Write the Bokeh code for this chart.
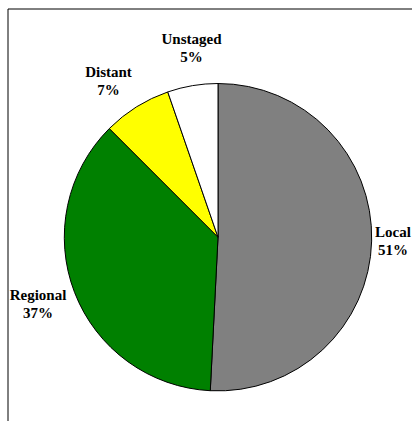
import math
from bokeh.plotting import figure
from bokeh.models import Range1d, ColumnDataSource
from bokeh.core.properties import value
from bokeh.embed import file_html
from bokeh.resources import INLINE

# Data
categories = ["Local", "Regional", "Distant", "Unstaged"]
shares = [50.8, 36.7, 7.2, 5.3]
pct_labels = ["51%", "37%", "7%", "5%"]
colors = ["#808080", "#008000", "#FFFF00", "#FFFFFF"]

W, H = 412, 421
p = figure(width=W, height=H, output_backend="svg", toolbar_location=None,
           x_range=Range1d(0, W), y_range=Range1d(0, H),
           min_border=0, background_fill_color="white", border_fill_color="white")
p.axis.visible = False
p.grid.visible = False
p.outline_line_color = None

# layout (pixel -> data: y = H - y_px)
cx, cy, r = 217.5, H - 236.7, 153.7

total = sum(shares)
starts, ends = [], []
acc = 0.0
for s in shares:
    a0 = math.pi / 2 - 2 * math.pi * acc / total
    acc += s
    a1 = math.pi / 2 - 2 * math.pi * acc / total
    starts.append(a0)
    ends.append(a1)

src = ColumnDataSource(dict(start=starts, end=ends, color=colors))
p.wedge(x=cx, y=cy, radius=r, start_angle="start", end_angle="end",
        direction="clock", fill_color="color", line_color="black",
        line_width=1, source=src)

# outer frame (extends past the window, like the reference)
p.line(x=[7.5, 7.5, W + 20], y=[-20, H - 8.5, H - 8.5], line_color="black", line_width=1)

# labels
label_pos = [(392.5, 231), (37.5, 294), (108, 71.5), (191, 38.5)]
line_gap = 18
xs, ys, txt = [], [], []
for (lx, ly), name, pct in zip(label_pos, categories, pct_labels):
    xs += [lx, lx]
    ys += [H - ly, H - ly - line_gap]
    txt += [name, pct]
p.text(x=xs, y=ys, text=txt, text_align="center", text_baseline="middle",
       text_font=value("Liberation Serif"), text_font_style="bold",
       text_font_size="15px", text_color="black")

open("out.html", "w").write(file_html(p, INLINE))
